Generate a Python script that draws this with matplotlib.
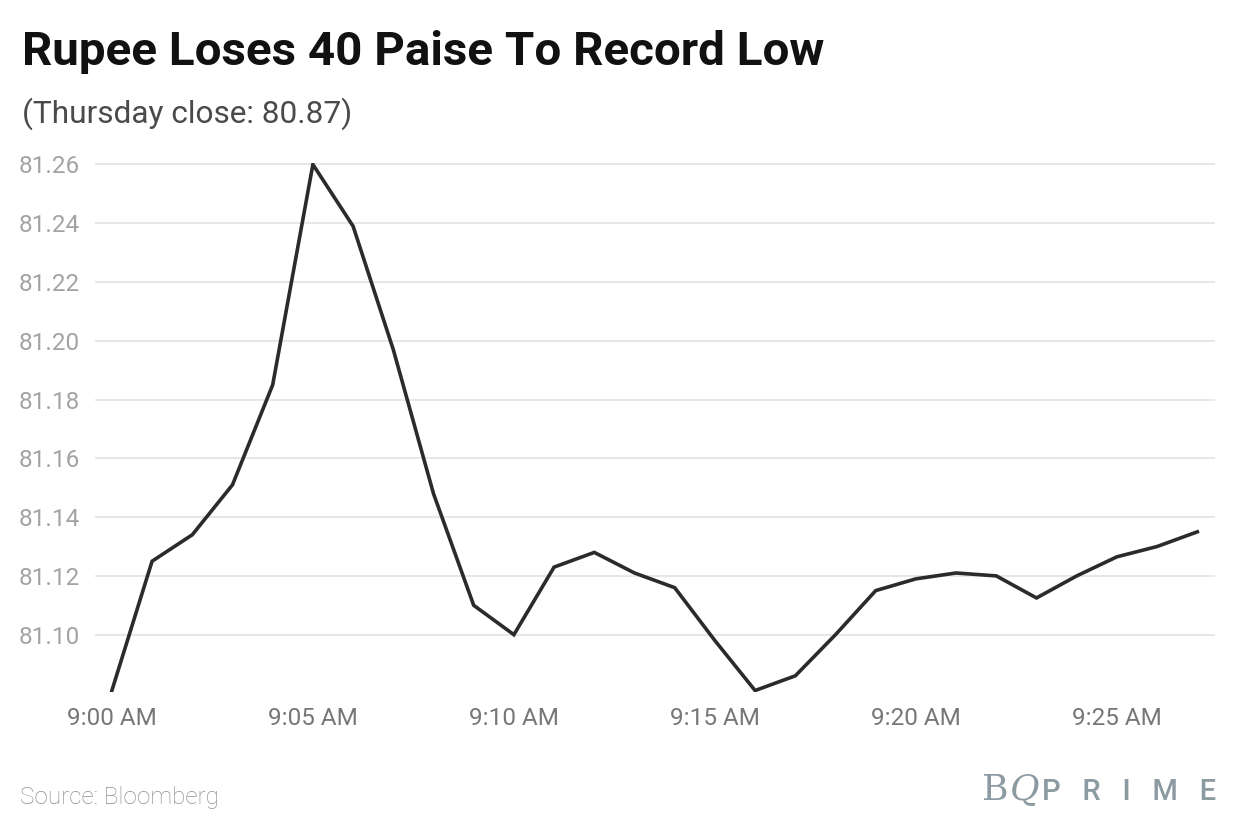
import numpy as np
import matplotlib.pyplot as plt

plt.rcParams['font.family'] = ['Roboto', 'DejaVu Sans']

# minutes after 9:00 AM
minutes = list(range(28))
rate = [81.081, 81.125, 81.134, 81.151, 81.185, 81.260, 81.239, 81.197,
        81.148, 81.110, 81.100, 81.123, 81.128, 81.121, 81.116, 81.098,
        81.081, 81.086, 81.100, 81.115, 81.119, 81.121, 81.120, 81.1125,
        81.120, 81.1265, 81.130, 81.135]
xtick_pos = [0, 5, 10, 15, 20, 25]
xtick_labels = ['9:00 AM', '9:05 AM', '9:10 AM', '9:15 AM', '9:20 AM', '9:25 AM']
ytick_vals = [81.10, 81.12, 81.14, 81.16, 81.18, 81.20, 81.22, 81.24, 81.26]

fig = plt.figure(figsize=(12.4, 8.4), dpi=100)
ax = fig.add_axes([95/1240, 1 - 692/840, 1120/1240, 529/840])

ax.plot(minutes, rate, color='#2b2b2b', lw=2.6, solid_joinstyle='miter', zorder=3)

ax.set_xlim(-0.42, 27.44)
ax.set_ylim(81.0805, 81.2605)
ax.set_xticks(xtick_pos)
ax.set_xticklabels(xtick_labels)
ax.set_yticks(ytick_vals)
ax.set_yticklabels(['%.2f' % v for v in ytick_vals])
ax.grid(axis='y', color='#e3e3e3', lw=1.2)
ax.set_axisbelow(True)
for s in ax.spines.values():
    s.set_visible(False)
ax.tick_params(axis='both', length=0)
ax.tick_params(axis='y', labelsize=17.5, labelcolor='#a3a3a3', pad=11)
ax.tick_params(axis='x', labelsize=17.5, labelcolor='#777777', pad=10.5)

fig.text(22/1240, 1 - 65/840, 'Rupee Loses 40 Paise To Record Low', fontsize=34.2,
         fontweight='bold', color='#111111', ha='left', va='baseline')
fig.text(22/1240, 1 - 123/840, '(Thursday close: 80.87)', fontsize=22.8,
         color='#4a4a4a', ha='left', va='baseline')
fig.text(20/1240, 1 - 804/840, 'Source: Bloomberg', fontsize=17.5, fontweight='light',
         color='#8f8f8f', ha='left', va='baseline')

# logo
fig.text(982/1240, 1 - 800/840, 'B', fontsize=26, family='DejaVu Serif',
         color='#8c9aa2', ha='left', va='baseline')
fig.text(1010/1240, 1 - 800/840, 'Q', fontsize=26, family='DejaVu Serif',
         style='italic', color='#8c9aa2', ha='left', va='baseline')
fig.text(1042/1240, 1 - 800/840, 'P   R   I   M   E', fontsize=21, fontweight='medium',
         color='#8c9aa2', ha='left', va='baseline')

fig.savefig('out.png', dpi=100)
